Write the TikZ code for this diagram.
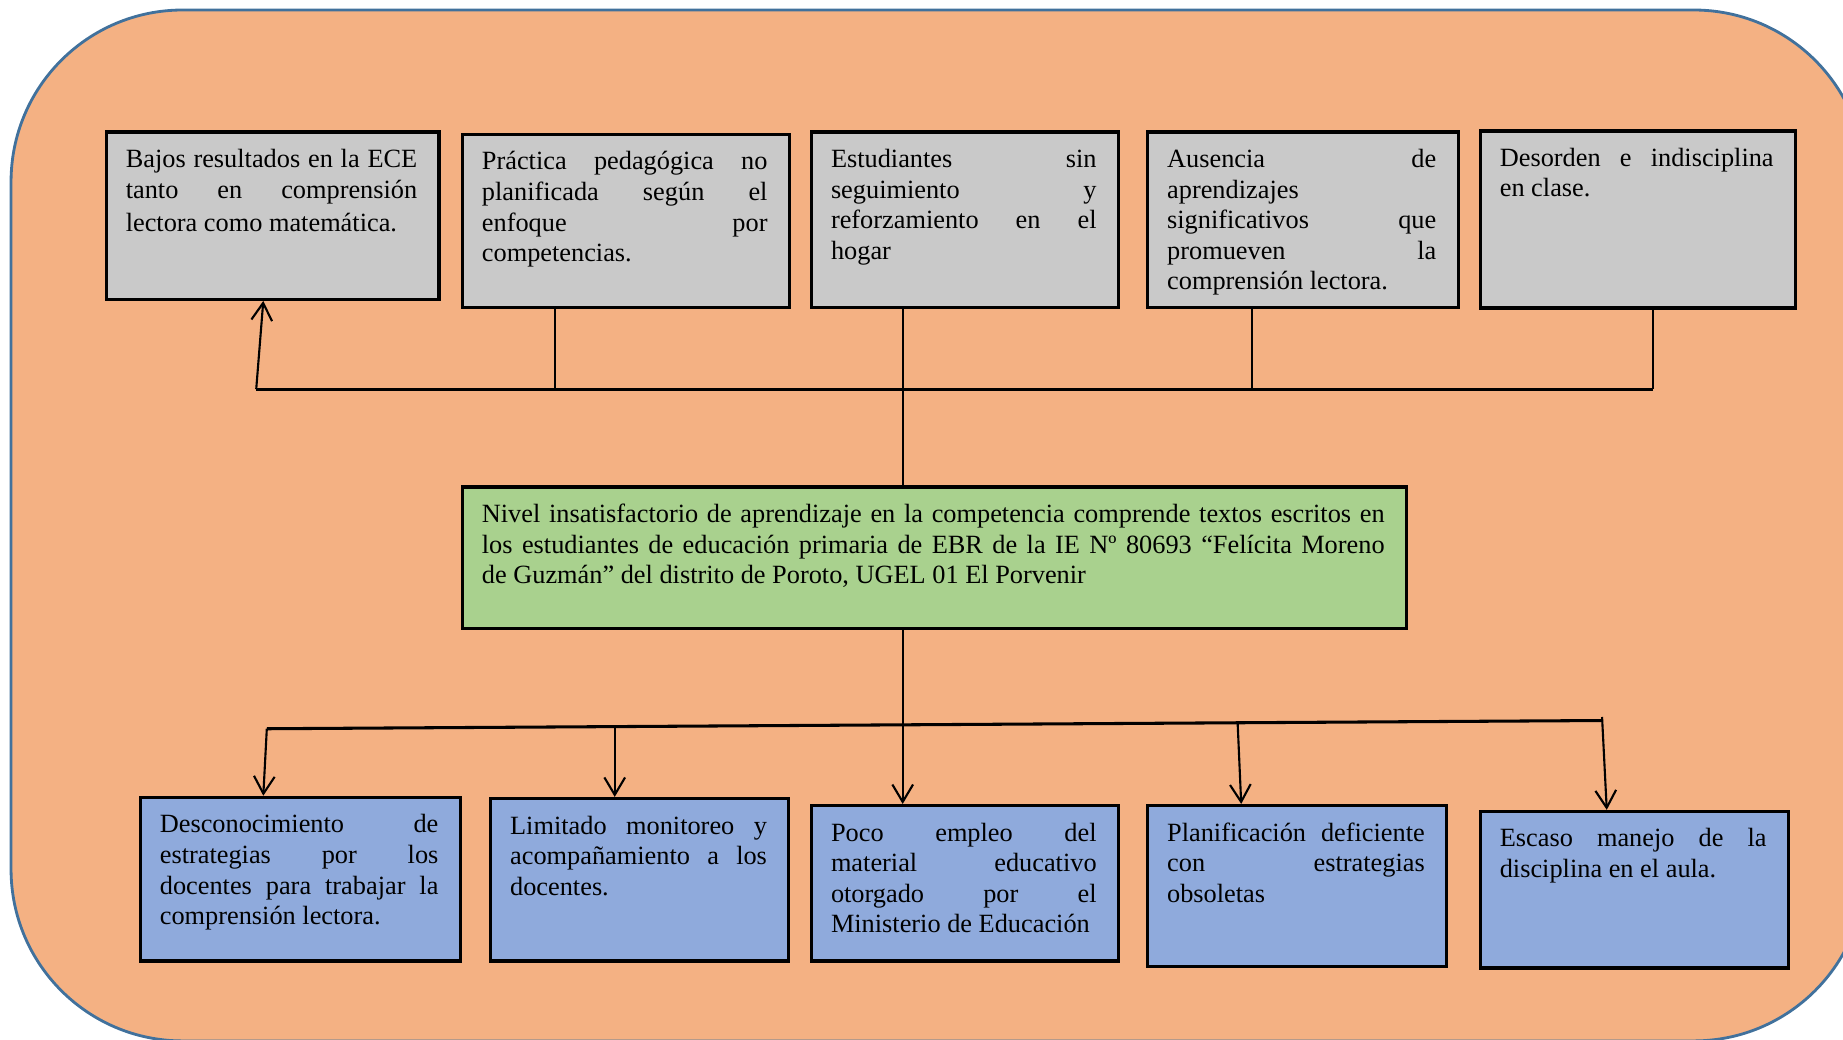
\documentclass[tikz,border=0pt]{standalone}
\usepackage{fontspec}
\setmainfont{Liberation Serif}
\usetikzlibrary{arrows.meta}
\definecolor{bgfill}{HTML}{F4B183}
\definecolor{bgline}{HTML}{41719C}
\definecolor{boxgray}{HTML}{C9C9C9}
\definecolor{boxgreen}{HTML}{A9D18E}
\definecolor{boxblue}{HTML}{8FAADC}
\begin{document}
\begin{tikzpicture}[x=0.5pt,y=-0.5pt,
  cbox/.style={draw=black,line width=1.4pt,inner sep=0pt},
  topbox/.style={cbox,fill=boxgray},
  mainbox/.style={cbox,fill=boxgreen},
  botbox/.style={cbox,fill=boxblue},
  txt/.style={anchor=north west,inner sep=0pt,align=justify,font=\fontsize{11.2pt}{13pt}\selectfont},
  bar/.style={line width=1.3pt},
  link/.style={line width=0.9pt},
  arr/.style={line width=0.9pt,-{Straight Barb[length=7.4pt,width=8.8pt]}}]
\useasboundingbox (0,0) rectangle (1568,884);
% background
\node[draw=bgline,fill=bgfill,line width=1.2pt,rounded corners=73pt,inner sep=0pt,
  minimum width=788.8pt,minimum height=438.55pt] (bg) at (798.2,447.05) {};
% top row
\node[topbox,minimum width=141.6pt,minimum height=71.1pt] (b1) at (232,183.5) {};
\node[topbox,minimum width=139.1pt,minimum height=73.6pt] (b2) at (532.5,188) {};
\node[topbox,minimum width=130.6pt,minimum height=74.6pt] (b3) at (821,187) {};
\node[topbox,minimum width=132.1pt,minimum height=74.6pt] (b4) at (1108.5,187) {};
\node[topbox,minimum width=134.1pt,minimum height=75.35pt] (b5) at (1393.5,186.75) {};
% main
\node[mainbox,minimum width=401.6pt,minimum height=60.1pt] (g) at (795,474.5) {};
% bottom row
\node[botbox,minimum width=136.1pt,minimum height=69.6pt] (b6) at (255.5,748) {};
\node[botbox,minimum width=126.85pt,minimum height=69.1pt] (b7) at (544.25,748.5) {};
\node[botbox,minimum width=130.6pt,minimum height=66.1pt] (b8) at (821,751.5) {};
\node[botbox,minimum width=127.1pt,minimum height=68.35pt] (b9) at (1103.5,753.75) {};
\node[botbox,minimum width=131.1pt,minimum height=66.6pt] (b10) at (1390.5,757) {};
% texts
\node[txt,text width=124pt] (t1) at ([shift={(8.8pt,-6.5pt)}]b1.north west)
 {\noindent\strut Bajos resultados en la ECE\linebreak tanto en comprensión\rule[-5.4pt]{0pt}{0pt}\linebreak lectora como matemática.};
\node[txt,text width=121.5pt] (t2) at ([shift={(8.8pt,-6.5pt)}]b2.north west)
 {\noindent\strut Práctica pedagógica no\linebreak planificada según el\linebreak enfoque por\linebreak competencias.};
\node[txt,text width=113pt] (t3) at ([shift={(8.8pt,-6.5pt)}]b3.north west)
 {\noindent\strut Estudiantes sin\linebreak seguimiento y\linebreak reforzamiento en el\linebreak hogar};
\node[txt,text width=114.5pt] (t4) at ([shift={(8.8pt,-6.5pt)}]b4.north west)
 {\noindent\strut Ausencia de\linebreak aprendizajes\linebreak significativos que\linebreak promueven la\linebreak comprensión lectora.};
\node[txt,text width=116.5pt] (t5) at ([shift={(8.8pt,-6.5pt)}]b5.north west)
 {\noindent\strut Desorden e indisciplina\linebreak en clase.};
\node[txt,text width=384pt] (tg) at ([shift={(8.8pt,-6.5pt)}]g.north west)
 {\noindent\strut Nivel insatisfactorio de aprendizaje en la competencia comprende textos escritos en\linebreak los estudiantes de educación primaria de EBR de la IE Nº 80693 “Felícita Moreno\linebreak de Guzmán” del distrito de Poroto, UGEL 01 El Porvenir};
\node[txt,text width=118.5pt] (t6) at ([shift={(8.8pt,-6.5pt)}]b6.north west)
 {\noindent\strut Desconocimiento de\linebreak estrategias por los\linebreak docentes para trabajar la\linebreak comprensión lectora.};
\node[txt,text width=109.25pt] (t7) at ([shift={(8.8pt,-6.5pt)}]b7.north west)
 {\noindent\strut Limitado monitoreo y\linebreak acompañamiento a los\linebreak docentes.};
\node[txt,text width=113pt] (t8) at ([shift={(8.8pt,-6.5pt)}]b8.north west)
 {\noindent\strut Poco empleo del\linebreak material educativo\linebreak otorgado por el\linebreak Ministerio de Educación};
\node[txt,text width=109.6pt] (t9) at ([shift={(8.8pt,-6.5pt)}]b9.north west)
 {\noindent\strut Planificación deficiente\linebreak con estrategias\linebreak obsoletas};
\node[txt,text width=113.5pt] (t10) at ([shift={(8.8pt,-6.5pt)}]b10.north west)
 {\noindent\strut Escaso manejo de la\linebreak disciplina en el aula.};
% connector coordinates
\coordinate (tl) at (218,331);
\coordinate (tr) at (1406,331);
\coordinate (c2) at (472,331);
\coordinate (c3) at (768,331);
\coordinate (c4) at (1065,331);
\coordinate (e1) at (224,0);
\coordinate (bl) at (227,620);
\coordinate (br) at (1363,613);
\coordinate (d2) at (523,618.2);
\coordinate (d4) at (1053,616);
\coordinate (d5) at (1363,610);
\coordinate (e4) at (1056,0);
\coordinate (e5) at (1367,0);
% top connectors
\draw[bar] (tl) -- (tr);
\draw[arr] (tl) -- (b1.south -| e1);
\draw[link] (b2.south -| c2) -- (c2);
\draw[link] (b3.south -| c3) -- (g.north -| c3);
\draw[link] (b4.south -| c4) -- (c4);
\draw[link] (b5.south -| tr) -- (tr);
% bottom connectors
\draw[arr] (g.south -| c3) -- (b8.north -| c3);
\draw[bar] (bl) -- (br);
\draw[arr] (bl) -- (b6.north -| e1);
\draw[arr] (d2) -- (b7.north -| d2);
\draw[arr] (d4) -- (b9.north -| e4);
\draw[arr] (d5) -- (b10.north -| e5);
\end{tikzpicture}
\end{document}
